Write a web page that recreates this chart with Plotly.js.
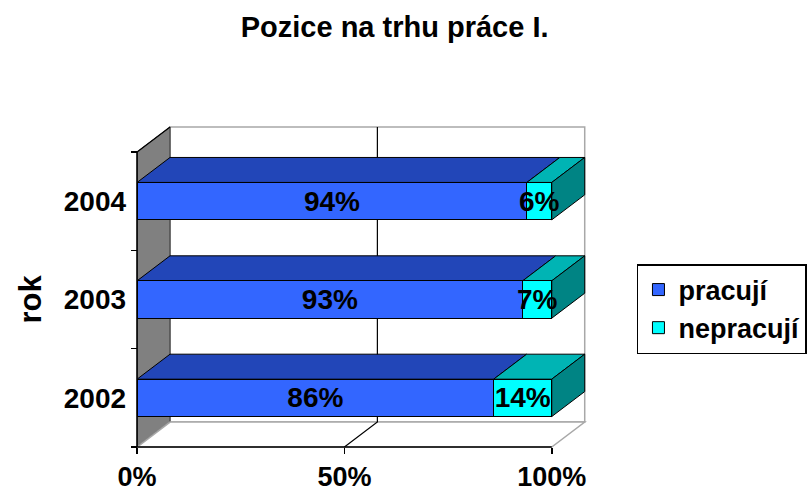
<!DOCTYPE html>
<html>
<head>
<meta charset="utf-8">
<script src="https://cdn.plot.ly/plotly-3.0.1.min.js"></script>
<style>html,body{margin:0;padding:0;background:#fff;}#chart{width:812px;height:491px;}</style>
</head>
<body>
<div id="chart"></div>
<script>
// ---- data ----
const years = ['2002', '2003', '2004'];
const pracuji = [86, 93, 94];
const nepracuji = [14, 7, 6];
const seriesNames = ['pracují', 'nepracují'];
const xTickVals = [0, 50, 100];
const xTickLabels = ['0%', '50%', '100%'];
const titleText = 'Pozice na trhu práce I.';
const yTitleText = 'rok';

// ---- style ----
const FONT = 'Liberation Sans, Arial, sans-serif';
const frontColors = ['#3366FF', '#00FFFF'];
const topColors = ['#2246B8', '#00B4B4'];
const sideColors = ['#1a3590', '#008484'];
const DX = 7.95;   // depth offset (x units)
const DY = 0.254;  // depth offset (category units)
const HW = 0.19;   // half bar width
const xr = [-0.5, 108.5];
const yr = [-0.52, 2.774];

const series = [pracuji, nepracuji];
const yIdx = years.map((_, i) => i);

const traces = series.map((vals, s) => ({
  type: 'bar',
  orientation: 'h',
  name: seriesNames[s],
  y: yIdx,
  x: vals,
  width: HW * 2,
  marker: {color: frontColors[s], line: {color: '#000', width: 1}},
  text: vals.map(v => v + '%'),
  textposition: 'inside',
  insidetextanchor: 'middle',
  constraintext: 'none',
  textangle: 0,
  insidetextfont: {family: FONT, size: 28, color: '#000', weight: 'bold'},
  hoverinfo: 'skip'
}));

const shapes = [];
const nCat = years.length;
const yBot = -0.5, yTop = nCat - 0.5;
// back wall
shapes.push({type: 'path', xref: 'x', yref: 'y', layer: 'below',
  path: `M${DX},${yBot + DY} L${100 + DX},${yBot + DY} L${100 + DX},${yTop + DY} L${DX},${yTop + DY} Z`,
  fillcolor: '#fff', line: {color: '#a8a8a8', width: 1.5}});
// side wall
shapes.push({type: 'path', xref: 'x', yref: 'y', layer: 'below',
  path: `M0,${yBot} L0,${yTop} L${DX},${yTop + DY} L${DX},${yBot + DY} Z`,
  fillcolor: '#808080', line: {color: '#333', width: 1}});
// floor
shapes.push({type: 'path', xref: 'x', yref: 'y', layer: 'below',
  path: `M0,${yBot} L100,${yBot} L${100 + DX},${yBot + DY} L${DX},${yBot + DY} Z`,
  fillcolor: '#fff', line: {color: '#a8a8a8', width: 1.5}});
// grid line at 50 %
xTickVals.filter(v => v > 0 && v < 100).forEach(v => {
  shapes.push({type: 'path', xref: 'x', yref: 'y', layer: 'below',
    path: `M${v},${yBot} L${v + DX},${yBot + DY} L${v + DX},${yTop + DY}`,
    line: {color: '#000', width: 1.2}});
});
// front axis lines
shapes.push({type: 'line', xref: 'x', yref: 'y', layer: 'below',
  x0: 0, x1: 100, y0: yBot, y1: yBot, line: {color: '#000', width: 1.5}});
shapes.push({type: 'line', xref: 'x', yref: 'y', layer: 'below',
  x0: 0, x1: 0, y0: yBot, y1: yTop, line: {color: '#000', width: 1.5}});
// side wall top edge
shapes.push({type: 'line', xref: 'x', yref: 'y', layer: 'below',
  x0: 0, x1: DX, y0: yTop, y1: yTop + DY, line: {color: '#000', width: 1.2}});

// 3D faces of bars
yIdx.forEach(i => {
  let cum = 0;
  series.forEach((vals, s) => {
    const x0 = cum, x1 = cum + vals[i];
    const t = i + HW, b = i - HW;
    shapes.push({type: 'path', xref: 'x', yref: 'y', layer: 'below',
      path: `M${x0},${t} L${x1},${t} L${x1 + DX},${t + DY} L${x0 + DX},${t + DY} Z`,
      fillcolor: topColors[s], line: {color: '#000', width: 1}});
    if (s === series.length - 1) {
      shapes.push({type: 'path', xref: 'x', yref: 'y', layer: 'below',
        path: `M${x1},${b} L${x1},${t} L${x1 + DX},${t + DY} L${x1 + DX},${b + DY} Z`,
        fillcolor: sideColors[s], line: {color: '#000', width: 1}});
    }
    cum = x1;
  });
});

const xPos = (-0.5 - yr[0]) / (yr[1] - yr[0]);
const yPos = (0 - xr[0]) / (xr[1] - xr[0]);

const layout = {
  width: 812, height: 491,
  margin: {l: 134.93, r: 224.97, t: 125.03, b: 42.07, pad: 0, autoexpand: false},
  paper_bgcolor: '#fff', plot_bgcolor: 'rgba(0,0,0,0)',
  barmode: 'stack',
  showlegend: true,
  title: {text: titleText, x: 0.486, xref: 'container', y: 0.945, yref: 'container',
    xanchor: 'center', yanchor: 'middle',
    font: {family: FONT, size: 29, color: '#000', weight: 'bold'}},
  xaxis: {range: xr, anchor: 'free', position: xPos,
    tickvals: xTickVals, ticktext: xTickLabels,
    ticks: 'outside', ticklen: 6, tickwidth: 1.5, tickcolor: '#000',
    showgrid: false, zeroline: false, showline: false, fixedrange: true, automargin: false,
    tickfont: {family: FONT, size: 27, color: '#000', weight: 'bold'}},
  yaxis: {range: yr, anchor: 'free', position: yPos,
    tickvals: yIdx, ticktext: years, ticks: '', ticklabelstandoff: 11,
    minor: {tickvals: [-0.5, 0.5, 1.5, 2.5], ticks: 'outside', ticklen: 6, tickwidth: 1.5, tickcolor: '#000', showgrid: false},
    showgrid: false, zeroline: false, showline: false, fixedrange: true, automargin: false,
    tickfont: {family: FONT, size: 28, color: '#000', weight: 'bold'}},
  legend: {x: (637 - 134.93) / 452.1, y: (491 - 42.07 - 264) / 323.9, xanchor: 'left', yanchor: 'top',
    xref: 'paper', yref: 'paper', traceorder: 'normal',
    bgcolor: '#fff', bordercolor: '#000', borderwidth: 1.5,
    font: {family: FONT, size: 27, color: '#000', weight: 'bold'}},
  annotations: [{text: yTitleText, xref: 'paper', yref: 'y', x: (30 - 134.93) / 452.1, y: (nCat - 1) / 2,
    showarrow: false, textangle: -90, xanchor: 'center', yanchor: 'middle',
    font: {family: FONT, size: 31, color: '#000', weight: 'bold'}}],
  shapes: shapes
};

Plotly.newPlot('chart', traces, layout, {displayModeBar: false, staticPlot: true});
</script>
</body>
</html>
